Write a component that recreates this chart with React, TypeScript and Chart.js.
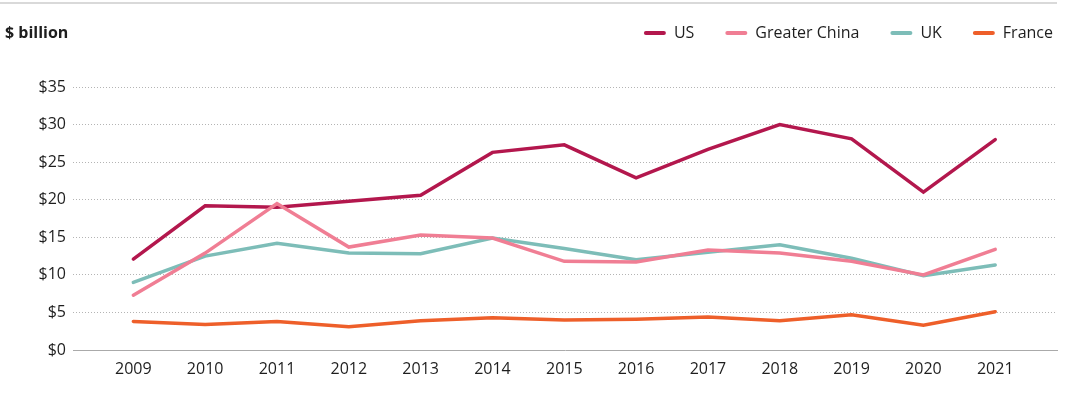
import React, { useEffect, useRef } from "react";
import { Chart, registerables } from "chart.js";

Chart.register(...registerables);

const years = [2009, 2010, 2011, 2012, 2013, 2014, 2015, 2016, 2017, 2018, 2019, 2020, 2021];
const usValues = [12.1, 19.2, 19.0, 19.8, 20.6, 26.3, 27.3, 22.9, 26.7, 30.0, 28.1, 21.0, 28.0];
const chinaValues = [7.3, 12.9, 19.5, 13.7, 15.3, 14.9, 11.8, 11.7, 13.3, 12.9, 11.8, 10.0, 13.4];
const ukValues = [9.0, 12.5, 14.2, 12.9, 12.8, 14.9, 13.5, 12.0, 13.0, 14.0, 12.2, 9.9, 11.3];
const franceValues = [3.8, 3.4, 3.8, 3.1, 3.9, 4.3, 4.0, 4.1, 4.4, 3.9, 4.7, 3.3, 5.1];
const seriesNames = ["US", "Greater China", "UK", "France"];
const seriesColors = ["#B3174D", "#F07E94", "#7DBDB8", "#EE5F2A"];
const seriesOrder = [2, 0, 1, 3];
const yMin = 0;
const yMax = 35;
const yStep = 5;
const unitLabel = "$ billion";

const FONT = "'Open Sans', 'Noto Sans', sans-serif";
const TEXT = "#1e1e1e";

const headerPlugin = {
  id: "header",
  afterDraw(chart: any) {
    const ctx = chart.ctx;
    ctx.save();
    ctx.strokeStyle = "#cccccc";
    ctx.lineWidth = 1.5;
    ctx.beginPath();
    ctx.moveTo(0, 3);
    ctx.lineTo(chart.chartArea.right, 3);
    ctx.stroke();

    ctx.font = `bold 16px ${FONT}`;
    ctx.fillStyle = TEXT;
    ctx.textBaseline = "middle";
    ctx.textAlign = "left";
    ctx.fillText(unitLabel, 5, 33);

    ctx.font = `16px ${FONT}`;
    const items = chart.data.datasets.map((ds: any) => ({
      label: ds.label,
      color: ds.borderColor,
      w: ctx.measureText(ds.label).width,
    }));
    const lineW = 22;
    const gap = 8;
    const itemGap = 31;
    const total =
      items.reduce((s: number, it: any) => s + lineW + gap + it.w, 0) + itemGap * (items.length - 1);
    let x = 1053 - total;
    items.forEach((it: any) => {
      ctx.strokeStyle = it.color;
      ctx.lineWidth = 4;
      ctx.lineCap = "round";
      ctx.beginPath();
      ctx.moveTo(x + 2, 33);
      ctx.lineTo(x + lineW - 2, 33);
      ctx.stroke();
      ctx.fillStyle = TEXT;
      ctx.fillText(it.label, x + lineW + gap, 33);
      x += lineW + gap + it.w + itemGap;
    });
    ctx.restore();
  },
};

export default function App() {
  const ref = useRef<HTMLCanvasElement | null>(null);

  useEffect(() => {
    document.body.style.margin = "0";
    if (!ref.current) return;
    const allSeries = [usValues, chinaValues, ukValues, franceValues];
    const chart = new Chart(ref.current, {
      type: "line",
      data: {
        datasets: allSeries.map((vals, i) => ({
          label: seriesNames[i],
          data: years.map((y, j) => ({ x: y, y: vals[j] })),
          borderColor: seriesColors[i],
          backgroundColor: seriesColors[i],
          borderWidth: 3.5,
          pointRadius: 0,
          pointHoverRadius: 0,
          tension: 0,
          borderCapStyle: "round",
          borderJoinStyle: "miter",
          fill: false,
          order: seriesOrder[i],
        })),
      },
      options: {
        animation: false,
        responsive: true,
        maintainAspectRatio: false,
        layout: { padding: { top: 87, right: 9, bottom: 24, left: 0 } },
        plugins: {
          legend: { display: false },
          title: { display: false },
          tooltip: { enabled: false },
        },
        scales: {
          x: {
            type: "linear",
            min: 2008.16,
            max: 2021.86,
            afterBuildTicks: (scale: any) => {
              scale.ticks = years.map((v) => ({ value: v }));
            },
            afterFit: (scale: any) => {
              scale.height = 40;
            },
            grid: { display: false, drawTicks: false },
            border: { display: true, color: "#aaaaaa", width: 1 },
            ticks: {
              callback: (v: any) => String(v),
              font: { family: FONT, size: 16 },
              color: TEXT,
              padding: 10,
              maxRotation: 0,
              autoSkip: false,
            },
          },
          y: {
            min: yMin,
            max: yMax,
            afterFit: (scale: any) => {
              scale.width = 73;
            },
            grid: {
              drawTicks: false,
              lineWidth: 1,
              color: (c: any) => (c.tick && c.tick.value === 0 ? "rgba(0,0,0,0)" : "#b4b4b4"),
            },
            border: { display: false, dash: [1, 2] },
            ticks: {
              stepSize: yStep,
              callback: (v: any) => "$" + v,
              font: { family: FONT, size: 16 },
              color: TEXT,
              padding: 7,
            },
          },
        },
      },
      plugins: [headerPlugin],
    });
    return () => chart.destroy();
  }, []);

  return (
    <div style={{ position: "relative", width: 1066, height: 414 }}>
      <canvas ref={ref} />
    </div>
  );
}
